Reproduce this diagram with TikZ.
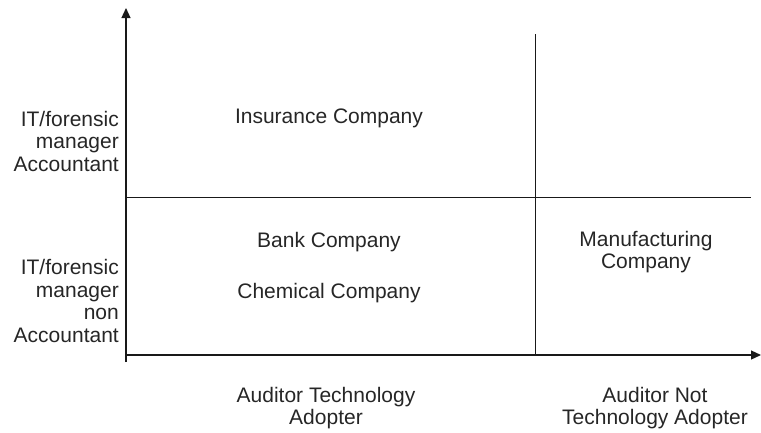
\documentclass[tikz,border=0pt]{standalone}
\usepackage{fontspec}
\setmainfont{Liberation Sans}
\usetikzlibrary{arrows.meta}
\begin{document}
\begin{tikzpicture}[x=1pt, y=-1pt,
  lbl/.style={text=black!85, inner sep=0pt, font=\fontsize{21}{22.5}\selectfont}]
\useasboundingbox (0,0) rectangle (761,432);

% Achsen
\draw[line width=1.2pt, black!90, -{Triangle[length=10pt,width=9pt]}] (126,362) -- (126,8);
\draw[line width=1.2pt, black!90, -{Triangle[length=10pt,width=9pt]}] (126,355) -- (761,355);

% Quadranten
\draw[line width=1pt, black!90] (126,197) -- (751,197);
\draw[line width=1pt, black!90] (535,34) -- (535,355);

% Zeilen
\node[lbl, align=right, anchor=east] (acc) at (119,141) {IT/forensic\\manager\\Accountant};
\node[lbl, align=right, anchor=east] (nonacc) at (119,301) {IT/forensic\\manager\\non\\Accountant};

% Spalten
\node[lbl, align=center] (adopt) at (326,408) {Auditor Technology\\Adopter};
\node[lbl, align=center] (notadopt) at (655,408) {Auditor Not\\Technology Adopter};

% Firmen
\node[lbl] (insurance) at (329,118) {Insurance Company};
\node[lbl] (bank) at (329,242) {Bank Company};
\node[lbl] (chemical) at (329,293) {Chemical Company};
\node[lbl, align=center] (manufacturing) at (646,252) {Manufacturing\\Company};
\end{tikzpicture}
\end{document}
